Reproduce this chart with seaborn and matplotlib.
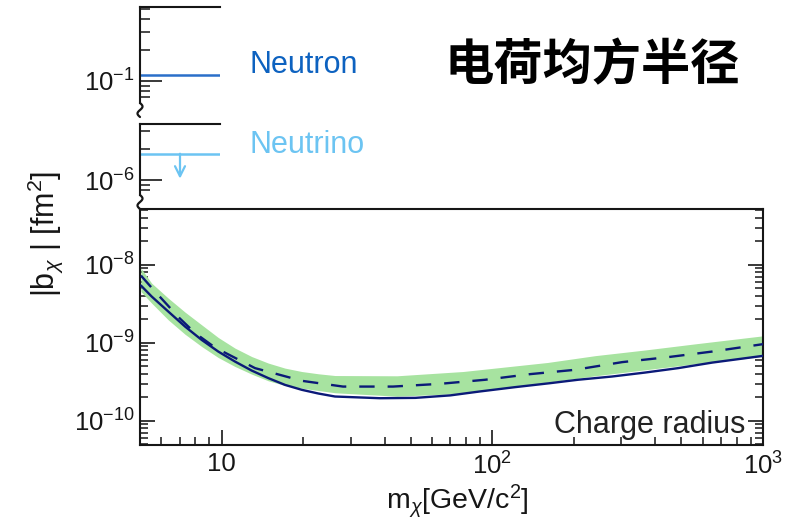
import numpy as np
import pandas as pd
import matplotlib
matplotlib.use("Agg")
import matplotlib.pyplot as plt
from matplotlib.lines import Line2D
from matplotlib.ticker import LogLocator, FixedLocator, FixedFormatter, NullFormatter
import seaborn as sns

# ---------------- data ----------------
mass_solid = [5.04, 5.52, 6.36, 7.33, 8.45, 9.73, 11.22, 12.93, 14.89, 17.16, 19.78, 22.79,
              26.26, 38.5, 52, 70, 90, 121, 163.5, 207, 277, 367, 486, 649, 1000]
b_solid = [5.43e-9, 3.93e-9, 2.52e-9, 1.62e-9, 1.09e-9, 7.73e-10, 5.75e-10, 4.41e-10,
           3.53e-10, 2.89e-10, 2.50e-10, 2.24e-10, 2.05e-10, 1.95e-10, 1.97e-10, 2.12e-10,
           2.38e-10, 2.70e-10, 3.04e-10, 3.36e-10, 3.70e-10, 4.16e-10, 4.74e-10, 5.58e-10,
           6.81e-10]

mass_dash = [5.04, 5.68, 7.0, 8.0, 9.46, 13.3, 19.8, 28.1, 43, 64, 94, 138, 202, 302,
             446, 649, 1000]
b_dash = [7.29e-9, 4.55e-9, 2.07e-9, 1.33e-9, 8.71e-10, 4.74e-10, 3.26e-10, 2.75e-10,
          2.75e-10, 2.98e-10, 3.36e-10, 3.97e-10, 4.51e-10, 5.66e-10, 6.56e-10, 7.73e-10,
          9.62e-10]

mass_band = [5.04, 5.52, 6.36, 7.33, 8.45, 9.73, 11.22, 12.93, 14.89, 17.16, 19.78, 22.79,
             26.26, 44.5, 78, 160, 240, 367, 561, 1000]
band_hi = [9.07e-9, 5.82e-9, 3.74e-9, 2.48e-9, 1.70e-9, 1.17e-9, 8.55e-10, 6.67e-10,
           5.50e-10, 4.74e-10, 4.29e-10, 4.01e-10, 3.81e-10, 3.78e-10, 4.29e-10, 5.60e-10,
           6.85e-10, 8.10e-10, 9.70e-10, 1.23e-9]
band_lo = [4.55e-9, 3.23e-9, 1.97e-9, 1.29e-9, 8.97e-10, 6.48e-10, 4.97e-10, 3.97e-10,
           3.26e-10, 2.84e-10, 2.62e-10, 2.45e-10, 2.29e-10, 2.07e-10, 2.25e-10, 3.12e-10,
           3.78e-10, 4.51e-10, 5.38e-10, 6.67e-10]

neutron_b = 0.115
neutrino_b = 1.8e-6

x_ticks = [10, 100, 1000]
x_ticklabels = ["10", "$10^{2}$", "$10^{3}$"]
y_ticks = [1e-10, 1e-9, 1e-8]
y_ticklabels = ["$10^{-10}$", "$10^{-9}$", "$10^{-8}$"]

# ---------------- style ----------------
sns.set_theme(style="ticks")
plt.rcParams["font.family"] = ["Liberation Sans", "DejaVu Sans"]
plt.rcParams["mathtext.fontset"] = "custom"
plt.rcParams["mathtext.rm"] = "Liberation Sans"
plt.rcParams["mathtext.it"] = "Liberation Sans:italic"
plt.rcParams["mathtext.bf"] = "Liberation Sans:bold"

W, H = 800, 522
fig = plt.figure(figsize=(W / 100, H / 100), dpi=100)


def fx(px):
    return np.asarray(px) / W


def fy(py):
    return 1 - np.asarray(py) / H


def axes_px(left, right, top, bottom):
    return fig.add_axes([fx(left), fy(bottom), (right - left) / W, (bottom - top) / H])


DARK = "#161616"
NAVY = "#0b1a78"
GREEN = "#a7e3a0"
TICK_FS = 18.5
spine_w = 1.5

# ---------------- main panel ----------------
ax = axes_px(140, 763, 209, 445)
ax.set_xscale("log")
ax.set_yscale("log")
ax.fill_between(mass_band, band_lo, band_hi, color=GREEN, lw=0, zorder=1)
df_s = pd.DataFrame({"m": mass_solid, "b": b_solid})
df_d = pd.DataFrame({"m": mass_dash, "b": b_dash})
sns.lineplot(data=df_s, x="m", y="b", ax=ax, color=NAVY, lw=1.7, zorder=3)
sns.lineplot(data=df_d, x="m", y="b", ax=ax, color=NAVY, lw=1.7, zorder=3,
             dashes=False, linestyle=(0, (6.5, 5.5)))
ax.set_xlim(5, 1000)
ax.set_ylim(4.9e-11, 5.2e-8)
ax.set_xlabel("")
ax.set_ylabel("")
ax.xaxis.set_major_locator(FixedLocator(x_ticks))
ax.xaxis.set_major_formatter(FixedFormatter(x_ticklabels))
ax.xaxis.set_minor_locator(LogLocator(base=10, subs=np.arange(2, 10), numticks=20))
ax.xaxis.set_minor_formatter(NullFormatter())
ax.yaxis.set_major_locator(FixedLocator(y_ticks))
ax.yaxis.set_major_formatter(FixedFormatter(y_ticklabels))
ax.yaxis.set_minor_locator(LogLocator(base=10, subs=np.arange(2, 10), numticks=20))
ax.yaxis.set_minor_formatter(NullFormatter())
ax.tick_params(axis="both", which="major", direction="in", length=11, width=1.2,
               labelsize=TICK_FS, colors=DARK, left=True, right=True, top=False, bottom=True)
ax.tick_params(axis="both", which="minor", direction="in", length=6, width=1.1,
               left=True, right=True, top=False, bottom=True, colors=DARK)
ax.tick_params(axis="x", which="major", pad=5)
ax.tick_params(axis="y", which="major", pad=4)
for s in ax.spines.values():
    s.set_linewidth(spine_w)
    s.set_color(DARK)
ax.text(0.972, 0.085, "Charge radius", transform=ax.transAxes, ha="right", va="center",
        fontsize=22, color="#222222")

# ---------------- top (neutron) panel ----------------
axn = axes_px(140, 220, 7, 103)
axn.set_yscale("log")
axn.set_xlim(0, 1)
axn.set_ylim(0.061, 0.52)
axn.axhline(neutron_b, color="#2a6fc9", lw=1.8)
axn.yaxis.set_major_locator(FixedLocator([0.1]))
axn.yaxis.set_major_formatter(FixedFormatter(["$10^{-1}$"]))
axn.yaxis.set_minor_locator(LogLocator(base=10, subs=np.arange(2, 10), numticks=20))
axn.yaxis.set_minor_formatter(NullFormatter())
axn.set_xticks([])

# ---------------- middle (neutrino) panel ----------------
axv = axes_px(140, 220, 124, 195)
axv.set_yscale("log")
axv.set_xlim(0, 1)
axv.set_ylim(0.715e-6, 3.5e-6)
axv.axhline(neutrino_b, color="#6cc4f2", lw=1.8)
axv.annotate("", xy=(0.5, 1.03e-6), xytext=(0.5, neutrino_b),
             arrowprops=dict(arrowstyle="->", color="#6cc4f2", lw=1.6,
                             mutation_scale=18, shrinkA=0, shrinkB=0))
axv.yaxis.set_major_locator(FixedLocator([1e-6]))
axv.yaxis.set_major_formatter(FixedFormatter(["$10^{-6}$"]))
axv.yaxis.set_minor_locator(LogLocator(base=10, subs=np.arange(2, 10), numticks=20))
axv.yaxis.set_minor_formatter(NullFormatter())
axv.set_xticks([])

for a in (axn, axv):
    a.set_facecolor("none")
    a.spines["right"].set_visible(False)
    a.spines["bottom"].set_visible(False)
    for s in ("left", "top"):
        a.spines[s].set_linewidth(spine_w)
        a.spines[s].set_color(DARK)
    a.tick_params(axis="y", which="major", direction="in", length=16, width=1.2,
                  labelsize=TICK_FS, colors=DARK, pad=4)
    a.tick_params(axis="y", which="minor", direction="in", length=7, width=1.1, colors=DARK)
    a.set_xlabel("")
    a.set_ylabel("")

# ---------------- axis breaks ----------------
t = np.linspace(0, 2 * np.pi, 40)
for y0, y1 in [(103, 117), (195, 209)]:
    xs = 140 + 2.5 * np.sin(t)
    ys = np.linspace(y0, y1, t.size)
    fig.add_artist(Line2D(fx(xs), fy(ys), transform=fig.transFigure, color=DARK, lw=1.6))

# ---------------- labels / annotations ----------------
fig.text(fx(45), fy(234), r"|b$_{\chi}$ | [fm$^{2}$]", rotation=90, ha="center", va="center",
         fontsize=22, color=DARK)
fig.text(fx(457), fy(501), r"m$_{\chi}$[GeV/c$^{2}$]", ha="center", va="center",
         fontsize=20.5, color=DARK)
fig.text(fx(249), fy(65), "Neutron", ha="left", va="center", fontsize=22, color="#0d62c0")
fig.text(fx(249), fy(145), "Neutrino", ha="left", va="center", fontsize=22, color="#6cc4f2")
fig.text(fx(592), fy(66), "电荷均方半径", ha="center", va="center", fontsize=35.5,
         fontweight="black", family=["Noto Sans CJK SC", "DejaVu Sans"], color="black")

fig.savefig("out.png", dpi=100)
